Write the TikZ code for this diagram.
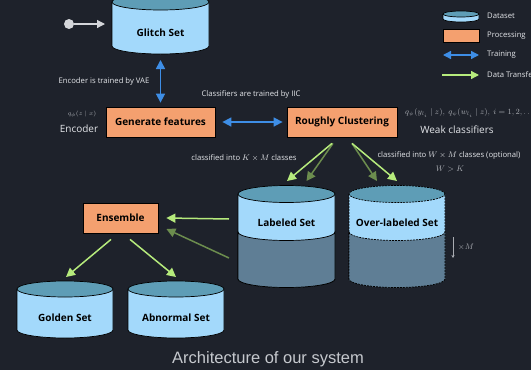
\documentclass[tikz,border=0pt]{standalone}
\usepackage{fontspec}
\setmainfont{Open Sans}
\newfontfamily\capfont{Liberation Sans}
\usetikzlibrary{arrows.meta,calc}

\definecolor{bg}{HTML}{1E222B}
\definecolor{cylbodyc}{HTML}{A3D9FB}
\definecolor{cyltopc}{HTML}{5E9DB6}
\definecolor{cyldarkc}{HTML}{5F7E95}
\definecolor{procfill}{HTML}{F4A06F}
\definecolor{trainblue}{HTML}{3E8EE6}
\definecolor{xferlight}{HTML}{B6EB7C}
\definecolor{xferdark}{HTML}{6C8D4E}
\definecolor{txtlight}{HTML}{E4E6EA}
\definecolor{mathgray}{HTML}{A9ACB2}
\definecolor{startgray}{HTML}{D4D6DA}
\definecolor{capgray}{HTML}{C6C9CE}

% cylinder: [extra style]{cx}{top centre y}{bottom centre y}{half width}{ry}
\newcommand\dbcylinder[6][]{%
  \fill[cylbodyc] (#2-#5,#3) -- (#2-#5,#4)
    arc[start angle=180,end angle=360,x radius=#5,y radius=#6] -- (#2+#5,#3) -- cycle;
  \draw[line width=0.7pt,#1] (#2-#5,#3) -- (#2-#5,#4)
    arc[start angle=180,end angle=360,x radius=#5,y radius=#6] -- (#2+#5,#3);
  \filldraw[fill=cyltopc,line width=0.7pt,#1] (#2,#3) ellipse[x radius=#5,y radius=#6];
}
% darker lower band: [extra style]{cx}{divider y}{bottom y}{half width}{ry}
\newcommand\dblowerband[6][]{%
  \filldraw[fill=cyldarkc,line width=0.7pt,#1] (#2-#5,#3)
    arc[start angle=180,end angle=360,x radius=#5,y radius=#6] -- (#2+#5,#4)
    arc[start angle=360,end angle=180,x radius=#5,y radius=#6] -- cycle;
}

\tikzset{
  proc/.style={draw=black,line width=0.8pt,fill=procfill,text=black,
    font=\bfseries\fontsize{10}{12}\selectfont,inner sep=0pt,minimum height=30pt},
  dblabel/.style={text=black,font=\bfseries\fontsize{10}{12}\selectfont,inner sep=1pt},
  train/.style={trainblue,line width=1.6pt,
    {Triangle[width=9pt,length=9pt]}-{Triangle[width=9pt,length=9pt]}},
  xfer/.style={xferlight,line width=1.5pt,-{Triangle[width=9pt,length=9pt]}},
  xferdim/.style={xfer,draw=xferdark},
  feed/.style={startgray,line width=1.2pt,-{Triangle[width=8pt,length=8pt]}},
  note/.style={text=txtlight,font=\fontsize{7.7}{9}\selectfont,inner sep=1pt},
  mathnote/.style={text=mathgray,font=\fontsize{7.6}{9}\selectfont,inner sep=1pt},
  bignote/.style={text=txtlight,font=\fontsize{10}{12}\selectfont,inner sep=1pt},
  legendtxt/.style={text=txtlight,font=\fontsize{7.7}{9}\selectfont,anchor=west,inner sep=0pt},
}

\begin{document}
\begin{tikzpicture}[x=1pt,y=1pt]
\fill[bg] (0,0) rectangle (531,-370);
\useasboundingbox (0,0) rectangle (531,-370);

% ---------- datasets ----------
\dbcylinder{160.5}{-2}{-46}{48.5}{8}
\node[dblabel] (glitch) at (160.5,-33) {Glitch Set};
\coordinate (glitchbase) at (160.5,-54);
\coordinate (glitchin) at (105,-24);

\dbcylinder{286.5}{-194}{-279}{48.5}{8.5}
\dblowerband{286.5}{-232}{-279}{48.5}{8.5}
\node[dblabel] (labeled) at (286.5,-223) {Labeled Set};
\coordinate (labtop) at (286.5,-181);
\coordinate (labwest) at (238,-219);

\dbcylinder[dash pattern=on 2pt off 1pt]{397}{-194}{-279}{48}{8.5}
\dblowerband[dash pattern=on 2pt off 1pt]{397}{-232}{-279}{48}{8.5}
\node[dblabel] (overlab) at (397,-223) {Over-labeled Set};
\coordinate (ovtop) at (397,-181);

\dbcylinder{65}{-289}{-330}{48}{8}
\node[dblabel] (golden) at (65,-318) {Golden Set};
\coordinate (goldtop) at (65,-281);

\dbcylinder{176}{-289}{-330}{48}{8}
\node[dblabel] (abnormal) at (176,-318) {Abnormal Set};
\coordinate (abntop) at (176,-281);

% ---------- processing ----------
\node[proc,minimum width=109pt] (gen) at (160.5,-122) {Generate features};
\node[proc,minimum width=110pt] (rc) at (342,-122) {Roughly Clustering};
\node[proc,minimum width=75pt] (ens) at (120.5,-218) {Ensemble};

% ---------- connectors ----------
\node[circle,fill=startgray,minimum size=10pt,inner sep=0pt] (start) at (69,-24) {};
\draw[feed] (start) -- (glitchin);

\draw[train] ([yshift=-6pt]glitchbase) -- ([yshift=4pt]gen.north);
\draw[train] ([xshift=7pt]gen.east) -- ([xshift=-4pt]rc.west);

\draw[xferdim] ([xshift=-9pt,yshift=-6pt]rc.south) -- ([xshift=20pt]labtop);
\draw[xfer]    ([xshift=-10pt,yshift=-6pt]rc.south) -- ([xshift=0.5pt]labtop);
\draw[xferdim] ([xshift=10pt,yshift=-6pt]rc.south) -- ([xshift=-20pt]ovtop);
\draw[xfer]    ([xshift=10pt,yshift=-6pt]rc.south) -- (ovtop);

\draw[xfer]    ([xshift=-9pt]labwest) -- ([xshift=8pt]ens.east);
\draw[xferdim] ([xshift=-9pt,yshift=-39pt]labwest) -- ([xshift=8pt,yshift=-11pt]ens.east);

\draw[xfer] ([xshift=-9.5pt,yshift=-6pt]ens.south) -- ([xshift=1pt,yshift=4pt]goldtop);
\draw[xfer] ([xshift=9.5pt,yshift=-6pt]ens.south) -- ([yshift=4pt]abntop);

% ---------- annotations ----------
\node[note] (vae) at (104,-81) {Encoder is trained by VAE};
\node[note] (iic) at (251,-94) {Classifiers are trained by IIC};
\node[mathnote,font=\fontsize{6.5}{7.5}\selectfont] (encq) at (82,-114) {$q_\phi(z\mid x)$};
\node[bignote] (enc) at (79,-129) {Encoder};
\node[mathnote,anchor=west] (weakq) at (404,-113)
  {$q_{\psi}(y_{l_i}\mid z),\ q_{\psi}(w_{l_i}\mid z),\ i=1,2,\ldots,$};
\node[bignote] (weak) at (457,-130) {Weak classifiers};
\node[note] (kxm) at (244,-158) {classified into $K\times M$ classes};
\node[note] (wxm) at (449,-155) {classified into $W\times M$ classes (optional)};
\node[mathnote] (wgk) at (450,-169) {$W>K$};

\coordinate (mtop) at (453,-237);
\coordinate (mbot) at (453,-258);
\draw[mathgray,line width=0.5pt,-{Stealth[length=3pt,width=3pt]}] (mtop) -- (mbot);
\node[mathnote] (timesm) at (466,-247) {$\times M$};

% ---------- legend ----------
\dbcylinder{461}{-14}{-19}{18}{3}
\node[legendtxt] (lgdata) at (487,-16) {Dataset};
\node[proc,minimum width=36pt,minimum height=13pt] (lgproc) at (461,-35.5) {};
\node[legendtxt] (lgproctxt) at (487,-36) {Processing};
\coordinate (lgtrA) at (443,-55);
\coordinate (lgtrB) at (479,-55);
\draw[trainblue,line width=1.4pt,
  {Triangle[width=8pt,length=8pt]}-{Triangle[width=8pt,length=8pt]}] (lgtrA) -- (lgtrB);
\node[legendtxt] (lgtrain) at (487,-55) {Training};
\coordinate (lgdtA) at (442,-75);
\coordinate (lgdtB) at (479,-75);
\draw[xferlight,line width=1.3pt,-{Triangle[width=8pt,length=8pt]}] (lgdtA) -- (lgdtB);
\node[legendtxt] (lgxfer) at (487,-75) {Data Transfer};

% ---------- caption ----------
\node[text=capgray,font=\capfont\fontsize{16.5}{19}\selectfont] (caption) at (268,-359)
  {Architecture of our system};
\end{tikzpicture}
\end{document}
